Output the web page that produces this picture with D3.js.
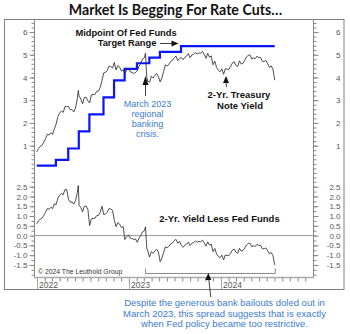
<!DOCTYPE html>
<html><head><meta charset="utf-8">
<script src="https://cdn.jsdelivr.net/npm/d3@7"></script>
<style>body{margin:0;background:#fff}svg{display:block}text{font-family:"Liberation Sans",Arial,sans-serif}</style>
</head><body><svg id="c" width="350" height="334"></svg>
<script>
// ---------- DATA ----------
const yieldDates = [
"2021-12-31","2022-01-07","2022-01-14","2022-01-21","2022-01-28","2022-02-04","2022-02-11","2022-02-18","2022-02-25","2022-03-04","2022-03-11","2022-03-18","2022-03-25","2022-04-01","2022-04-08","2022-04-15","2022-04-22","2022-04-29","2022-05-06","2022-05-13","2022-05-20","2022-05-27","2022-06-03","2022-06-10","2022-06-14","2022-06-17","2022-06-24","2022-07-01","2022-07-08","2022-07-15","2022-07-22","2022-07-29","2022-08-05","2022-08-12","2022-08-19","2022-08-26","2022-09-02","2022-09-09","2022-09-16","2022-09-23","2022-09-30","2022-10-07","2022-10-14","2022-10-21","2022-10-28","2022-11-04","2022-11-11","2022-11-18","2022-11-25","2022-12-02","2022-12-09","2022-12-16","2022-12-23","2022-12-30",
"2023-01-06","2023-01-13","2023-01-20","2023-01-27","2023-02-03","2023-02-10","2023-02-17","2023-02-24","2023-03-03","2023-03-08","2023-03-10","2023-03-13","2023-03-17","2023-03-24","2023-03-31","2023-04-07","2023-04-14","2023-04-21","2023-04-28","2023-05-05","2023-05-12","2023-05-19","2023-05-26","2023-06-02","2023-06-09","2023-06-16","2023-06-23","2023-06-30","2023-07-07","2023-07-14","2023-07-21","2023-07-28","2023-08-04","2023-08-11","2023-08-18","2023-08-25","2023-09-01","2023-09-08","2023-09-15","2023-09-22","2023-09-29","2023-10-06","2023-10-13","2023-10-20","2023-10-27","2023-11-03","2023-11-10","2023-11-17","2023-11-24","2023-12-01","2023-12-08","2023-12-15","2023-12-22","2023-12-29",
"2024-01-05","2024-01-12","2024-01-19","2024-01-26","2024-02-02","2024-02-09","2024-02-16","2024-02-23","2024-03-01","2024-03-08","2024-03-15","2024-03-22","2024-03-29","2024-04-05","2024-04-12","2024-04-19","2024-04-26","2024-05-03","2024-05-10","2024-05-17","2024-05-24","2024-05-31","2024-06-07","2024-06-14","2024-06-21","2024-06-28","2024-07-05","2024-07-12","2024-07-19","2024-07-26","2024-08-02"];

const twoYearYield = [
0.73,0.87,0.97,1.01,1.16,1.31,1.50,1.47,1.57,1.50,1.75,1.95,2.28,2.44,2.53,2.46,2.72,2.72,2.72,2.58,2.59,2.48,2.66,3.06,3.43,3.18,3.05,2.84,3.12,3.13,2.97,2.88,3.23,3.25,3.25,3.39,3.40,3.56,3.87,4.20,4.22,4.31,4.50,4.48,4.41,4.66,4.33,4.53,4.46,4.28,4.34,4.18,4.32,4.41,
4.25,4.23,4.18,4.21,4.29,4.49,4.62,4.81,4.86,5.07,4.59,3.99,3.84,3.78,4.06,3.98,4.09,4.18,4.04,3.80,3.98,4.27,4.56,4.50,4.59,4.71,4.75,4.87,4.94,4.74,4.84,4.88,4.78,4.89,4.94,5.05,4.87,4.99,5.02,5.10,5.04,5.08,5.06,5.15,5.01,4.84,5.06,4.89,4.95,4.56,4.72,4.44,4.32,4.25,
4.38,4.14,4.39,4.36,4.36,4.48,4.64,4.69,4.53,4.48,4.73,4.59,4.62,4.75,4.90,4.98,4.99,4.81,4.86,4.83,4.94,4.87,4.88,4.70,4.71,4.75,4.60,4.45,4.51,4.36,3.88];

const yieldLessFedFunds = [
0.61,0.75,0.85,0.89,1.04,1.19,1.38,1.35,1.45,1.38,1.63,1.58,1.91,2.07,2.16,2.09,2.35,2.35,1.85,1.71,1.72,1.61,1.79,2.19,2.56,1.56,1.43,1.22,1.50,1.51,1.35,0.51,0.86,0.88,0.88,1.02,1.03,1.19,1.50,1.08,1.10,1.19,1.38,1.36,1.29,0.79,0.46,0.66,0.59,0.41,0.47,-0.20,-0.06,0.04,
-0.13,-0.15,-0.20,-0.17,-0.34,-0.14,0.00,0.19,0.24,0.45,-0.04,-0.64,-0.79,-1.10,-0.82,-0.90,-0.79,-0.70,-0.84,-1.33,-1.15,-0.86,-0.57,-0.63,-0.54,-0.42,-0.38,-0.26,-0.19,-0.39,-0.29,-0.50,-0.60,-0.49,-0.44,-0.33,-0.51,-0.39,-0.36,-0.28,-0.34,-0.30,-0.32,-0.23,-0.37,-0.54,-0.32,-0.49,-0.43,-0.82,-0.66,-0.94,-1.06,-1.13,
-1.00,-1.24,-0.99,-1.02,-1.02,-0.90,-0.74,-0.69,-0.85,-0.90,-0.65,-0.79,-0.76,-0.63,-0.48,-0.40,-0.39,-0.57,-0.52,-0.55,-0.44,-0.51,-0.50,-0.68,-0.67,-0.63,-0.78,-0.93,-0.87,-1.02,-1.50];

const fedDates = ["2021-12-31","2022-03-17","2022-05-05","2022-06-16","2022-07-28","2022-09-22","2022-11-03","2022-12-15","2023-02-02","2023-03-23","2023-05-04","2023-07-27","2024-08-02"];
const fedFundsMid = [0.125,0.375,0.875,1.625,2.375,3.125,3.875,4.375,4.625,4.875,5.125,5.375,5.375];

const topTicks = [1,2,3,4,5,6];
const bottomTicks = [-1.5,-1.0,-0.5,0.0,0.5,1.0,1.5,2.0,2.5];
const yearLabels = ["2022","2023","2024"];

// ---------- CHART ----------
const parse = d3.timeParse("%Y-%m-%d");
const svg = d3.select("#c");
const x = d3.scaleTime().domain([new Date(2022,0,1), new Date(2025,0,1)]).range([37,313]);
const yTop = d3.scaleLinear().domain([0,6]).range([168.4,32]);
const yBot = d3.scaleLinear().domain([0,2.5]).range([235.6,186.7]);
const axL = 34, axR = 313, plotTop = 19.5, plotBot = 277;

// title
svg.append("text").attr("x",175.5).attr("y",14.5).attr("text-anchor","middle")
  .style("font-family","Lato, 'DejaVu Sans', sans-serif").style("font-weight","700").style("font-size","14.2px")
  .attr("fill","#111").text("Market Is Begging For Rate Cuts…");

// outer frame
svg.append("rect").attr("x",4.5).attr("y",19.5).attr("width",339.5).attr("height",270)
  .attr("fill","none").attr("stroke","#808080").attr("stroke-width",1);

// plot boundaries
const g = svg.append("g");
g.append("line").attr("x1",axL+0.5).attr("x2",axL+0.5).attr("y1",plotTop).attr("y2",plotBot).attr("stroke","#888");
g.append("line").attr("x1",axR+0.5).attr("x2",axR+0.5).attr("y1",plotTop).attr("y2",plotBot).attr("stroke","#888");
g.append("line").attr("x1",axL).attr("x2",axR+1).attr("y1",plotBot+0.5).attr("y2",plotBot+0.5).attr("stroke","#aaa").attr("stroke-width",1.5);

function styleAxis(sel){
  sel.select(".domain").remove();
  sel.selectAll("line").attr("stroke","#888");
  sel.selectAll("text").attr("fill","#555").style("font-size","8px").style("font-family","'Liberation Sans',Arial,sans-serif");
}
const range = (a,b,s)=>{const r=[];for(let v=a;v<=b+1e-9;v+=s)r.push(+v.toFixed(3));return r;};
const topMinor = range(-0.4,6.6,0.2).filter(v=>yTop(v)>=20 && yTop(v)<=177.5);
const botMinor = range(-2.0,3.0,0.25).filter(v=>yBot(v)>=179.5 && yBot(v)<=276);

// left axes
g.append("g").attr("transform",`translate(${axL+0.5},0)`).call(d3.axisLeft(yTop).tickValues(topMinor).tickSize(3).tickFormat("")).call(styleAxis);
g.append("g").attr("transform",`translate(${axL+0.5},0)`).call(d3.axisLeft(yTop).tickValues(topTicks).tickSize(5).tickPadding(2).tickFormat(d3.format("d"))).call(styleAxis);
g.append("g").attr("transform",`translate(${axL+0.5},0)`).call(d3.axisLeft(yBot).tickValues(botMinor).tickSize(3).tickFormat("")).call(styleAxis);
g.append("g").attr("transform",`translate(${axL+0.5},0)`).call(d3.axisLeft(yBot).tickValues(bottomTicks).tickSize(5).tickPadding(2).tickFormat(d3.format(".1f"))).call(styleAxis);
// right axes
function rightLabels(sel){ sel.selectAll("text").attr("x",27).attr("text-anchor","end"); }
g.append("g").attr("transform",`translate(${axR+0.5},0)`).call(d3.axisRight(yTop).tickValues(topMinor).tickSize(3).tickFormat("")).call(styleAxis);
g.append("g").attr("transform",`translate(${axR+0.5},0)`).call(d3.axisRight(yTop).tickValues(topTicks).tickSize(5).tickFormat(d3.format("d"))).call(styleAxis).call(rightLabels);
g.append("g").attr("transform",`translate(${axR+0.5},0)`).call(d3.axisRight(yBot).tickValues(botMinor).tickSize(3).tickFormat("")).call(styleAxis);
g.append("g").attr("transform",`translate(${axR+0.5},0)`).call(d3.axisRight(yBot).tickValues(bottomTicks).tickSize(5).tickFormat(d3.format(".1f"))).call(styleAxis).call(rightLabels);
g.selectAll("text").each(function(){ const t=d3.select(this); t.text(t.text().replace("−","-")); });

// x axis: month ticks + year separators
const months = d3.timeMonth.range(new Date(2022,0,1), new Date(2025,0,1));
g.append("g").attr("transform",`translate(0,${plotBot+1})`)
  .call(d3.axisBottom(x).tickValues(months).tickSize(3.5).tickFormat(""))
  .call(sel=>{sel.select(".domain").remove(); sel.selectAll("line").attr("stroke","#888");});
yearLabels.forEach(yl=>{
  const xx = Math.round(x(new Date(+yl,0,1)))+0.5;
  g.append("line").attr("x1",xx).attr("x2",xx).attr("y1",plotBot+1).attr("y2",289).attr("stroke","#aaa");
  g.append("text").attr("x",xx+1.5).attr("y",288).attr("fill","#555").style("font-size","8.5px").text(yl);
});

// zero line in bottom panel
g.append("line").attr("x1",axL).attr("x2",axR).attr("y1",yBot(0)).attr("y2",yBot(0)).attr("stroke","#999").attr("stroke-width",1);

// series
const yData = yieldDates.map((d,i)=>({d:parse(d),v:twoYearYield[i]}));
const sData = yieldDates.map((d,i)=>({d:parse(d),v:yieldLessFedFunds[i]}));
const fData = fedDates.map((d,i)=>({d:parse(d),v:fedFundsMid[i]}));

svg.append("path").datum(fData).attr("fill","none").attr("stroke","#0a14ff").attr("stroke-width",2.2)
  .attr("d",d3.line().x(d=>x(d.d)).y(d=>yTop(d.v)).curve(d3.curveStepAfter));
svg.append("path").datum(yData).attr("fill","none").attr("stroke","#222").attr("stroke-width",0.8)
  .attr("d",d3.line().x(d=>x(d.d)).y(d=>yTop(d.v)));
svg.append("path").datum(sData).attr("fill","none").attr("stroke","#222").attr("stroke-width",0.8)
  .attr("d",d3.line().x(d=>x(d.d)).y(d=>yBot(d.v)));

// ---------- ANNOTATIONS ----------
function label(xp,yp,txt,opts={}){
  return svg.append("text").attr("x",xp).attr("y",yp).attr("text-anchor",opts.anchor||"middle")
    .attr("fill",opts.fill||"#111").style("font-size",(opts.size||9)+"px").style("font-weight",opts.weight||"bold").text(txt);
}
const arrowUp = (cx,tipY,h,w)=>`M${cx},${tipY}L${cx-w/2},${tipY+h}L${cx+w/2},${tipY+h}Z`;

label(126,35.5,"Midpoint Of Fed Funds",{size:9.3});
label(127,45.5,"Target Range",{size:9.3});
svg.append("line").attr("x1",160).attr("x2",172).attr("y1",43.5).attr("y2",43.5).attr("stroke","#111").attr("stroke-width",0.8);
svg.append("path").attr("d","M178.5,43.5L171.5,40.5L171.5,46.5Z").attr("fill","#111");

// March 2023 arrow + blue text
svg.append("line").attr("x1",145.5).attr("x2",145.5).attr("y1",84).attr("y2",96).attr("stroke","#111").attr("stroke-width",0.8);
svg.append("path").attr("d",arrowUp(145.5,76,9,6)).attr("fill","#111");
const blue = "#3b7bd0";
["March 2023","regional","banking","crisis."].forEach((t,i)=>label(147.5,107+i*10,t,{fill:blue,weight:"normal",size:9}));

// 2-Yr treasury arrow and text
svg.append("path").attr("d",arrowUp(226,76,7,6)).attr("fill","#111");
svg.append("line").attr("x1",226).attr("x2",226.5).attr("y1",82).attr("y2",87).attr("stroke","#111").attr("stroke-width",0.8);
label(239,97.5,"2-Yr. Treasury",{size:9.5});
label(240,108.5,"Note Yield",{size:9.5});

// bottom panel label
label(219.5,222,"2-Yr. Yield Less Fed Funds",{size:9.5});
// copyright
label(38,274,"© 2024 The Leuthold Group",{anchor:"start",size:6.8,weight:"normal",fill:"#333"});

// bracket
svg.append("path").attr("d",`M${x(parse("2023-03-08"))},268.5V273.5H${x(parse("2024-08-02"))+0.5}V268.5`)
  .attr("fill","none").attr("stroke","#888").attr("stroke-width",1);
// bottom arrow
svg.append("path").attr("d",arrowUp(208.3,273,7,6)).attr("fill","#111");
svg.append("line").attr("x1",208.8).attr("x2",210.7).attr("y1",279).attr("y2",297).attr("stroke","#111").attr("stroke-width",0.8);

["Despite the generous bank bailouts doled out in","March 2023, this spread suggests that is exactly","when Fed policy became too restrictive."]
  .forEach((t,i)=>label(224.5,306+i*10.5,t,{fill:blue,weight:"normal",size:9.5}));
</script></body></html>
